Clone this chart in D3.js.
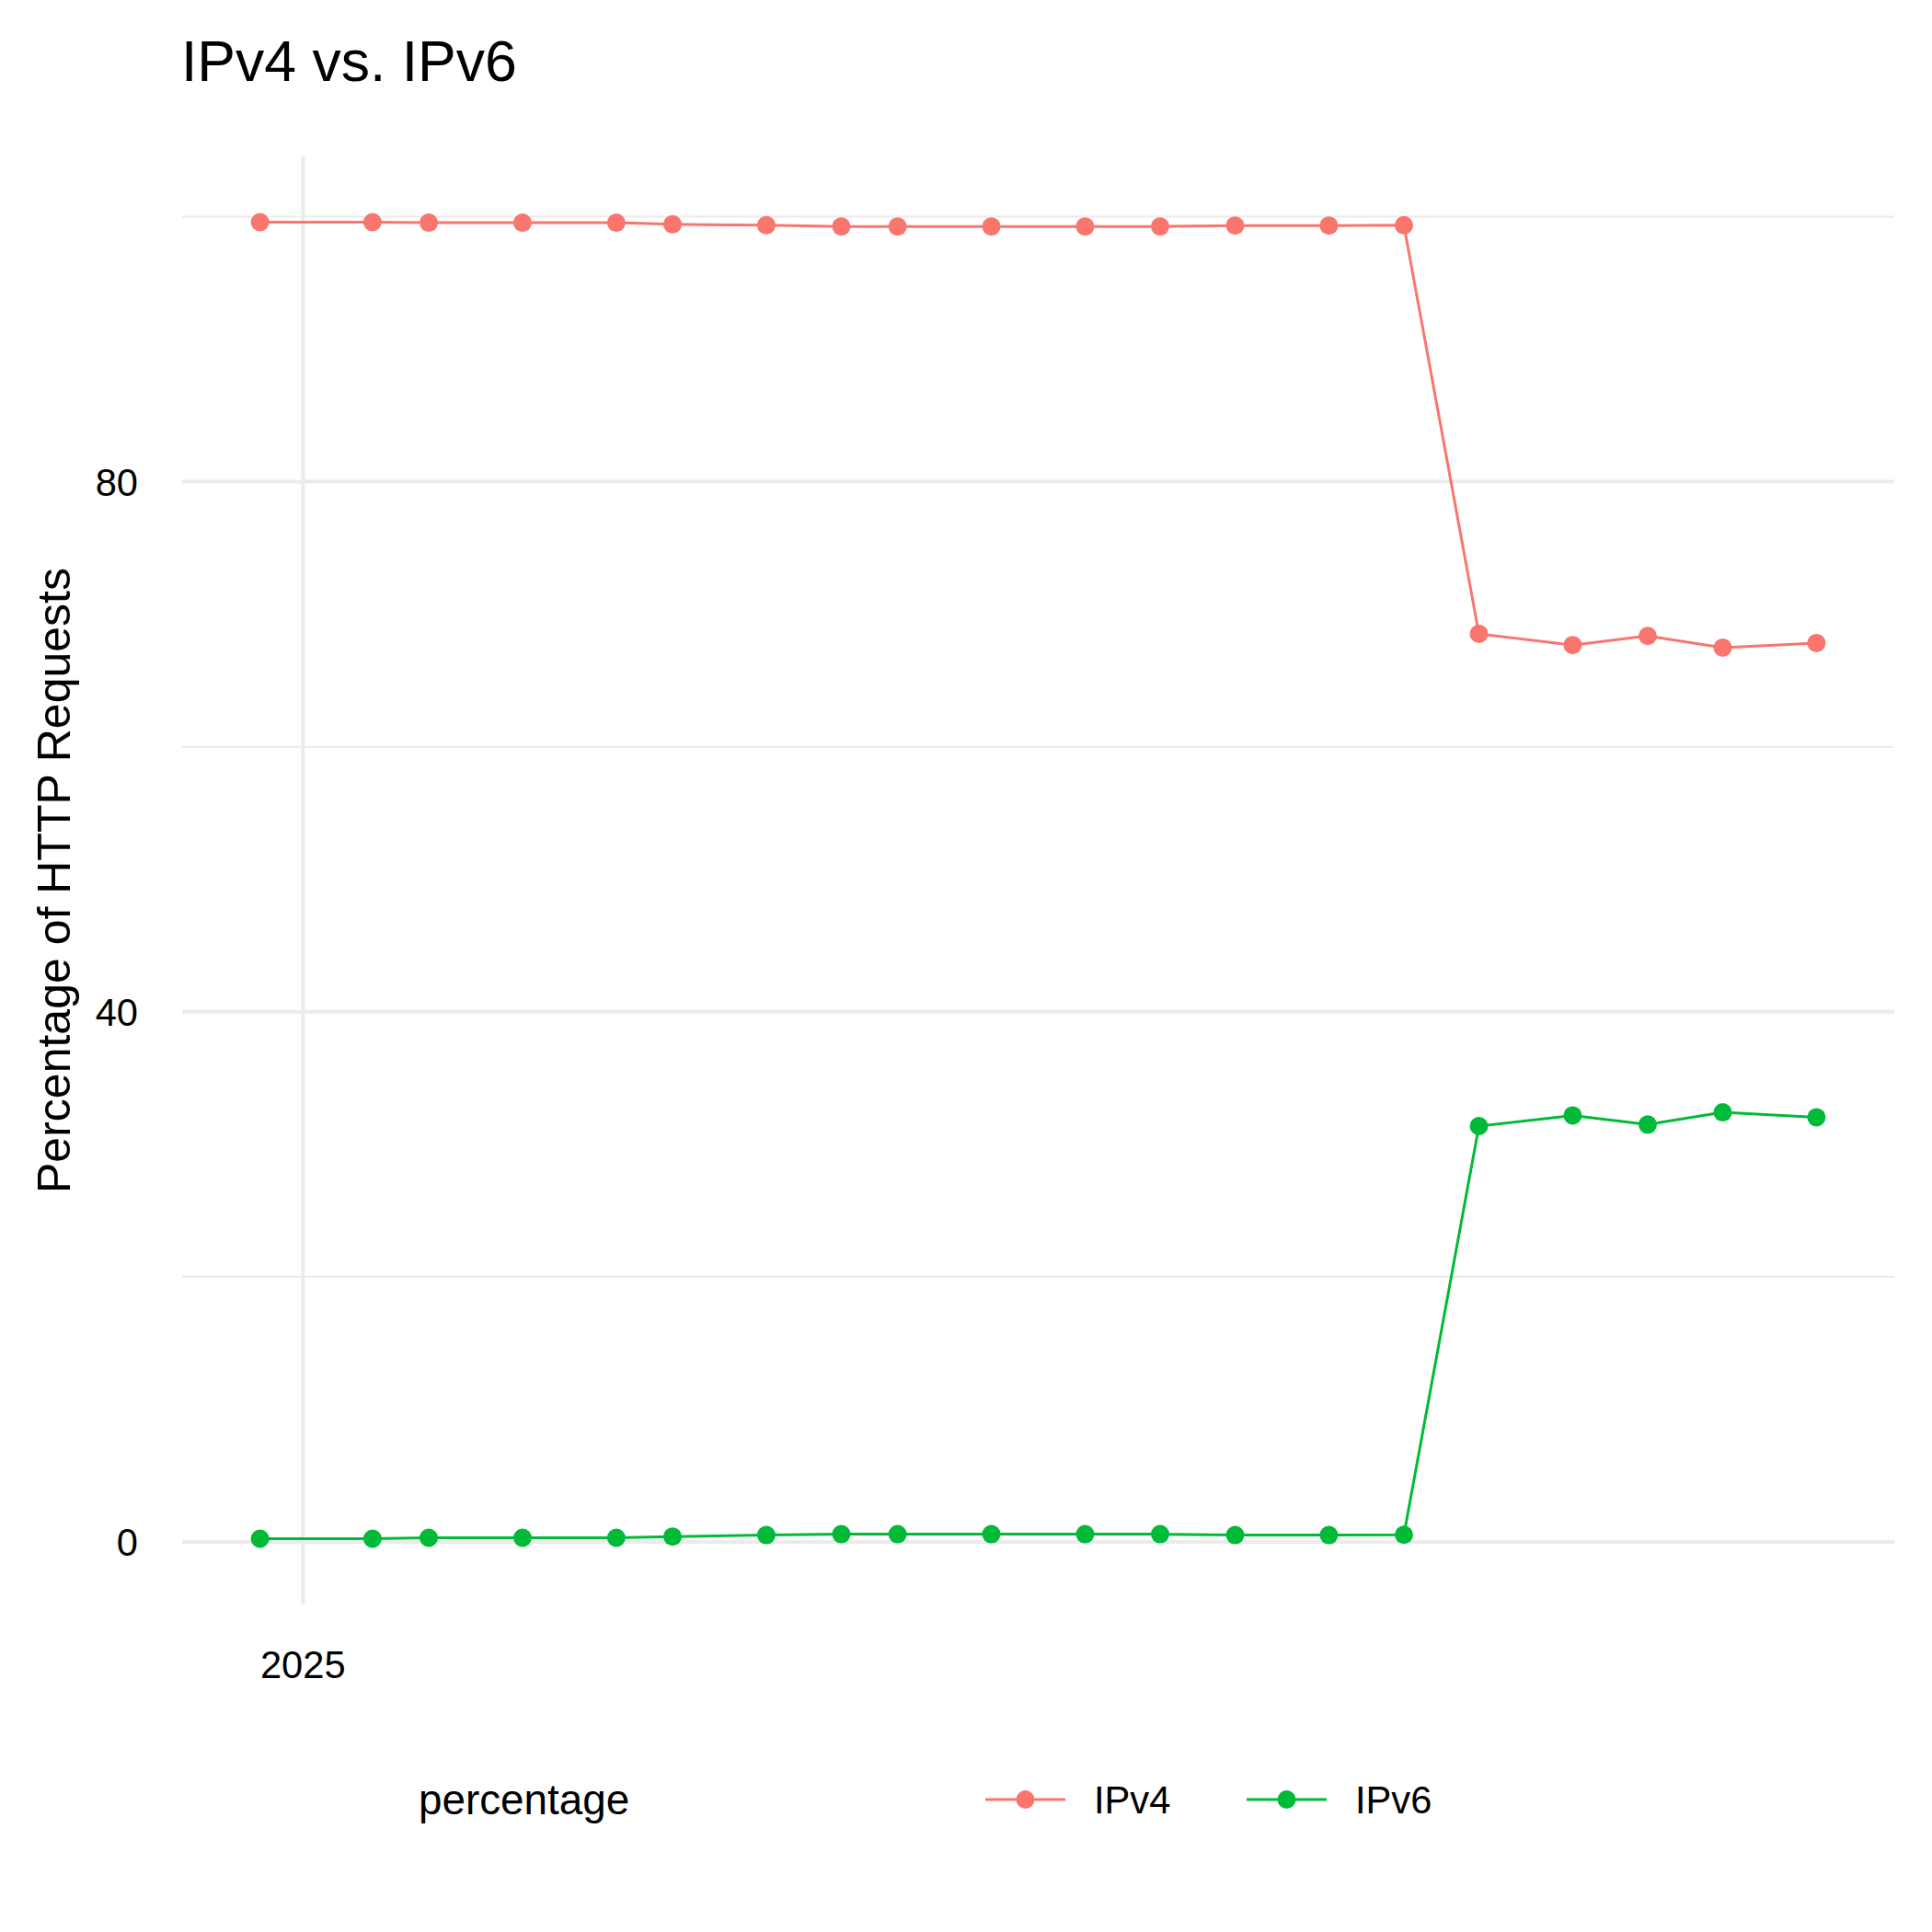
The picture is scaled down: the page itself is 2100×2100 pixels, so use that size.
<!DOCTYPE html>
<html>
<head>
<meta charset="utf-8">
<script src="https://cdn.jsdelivr.net/npm/d3@7"></script>
<style>
  html, body { margin: 0; padding: 0; background: #fff; }
  svg { display: block; font-family: "Liberation Sans", Arial, sans-serif; }
</style>
</head>
<body>
<svg id="chart"></svg>
<script>
// observation times (UTC)
const dates = [
  "2024-12-29T17:00Z", "2025-01-04T17:00Z", "2025-01-07T17:00Z", "2025-01-12T17:00Z",
  "2025-01-17T17:00Z", "2025-01-20T17:00Z", "2025-01-25T17:00Z", "2025-01-29T17:00Z",
  "2025-02-01T17:00Z", "2025-02-06T17:00Z", "2025-02-11T17:00Z", "2025-02-15T17:00Z",
  "2025-02-19T17:00Z", "2025-02-24T17:00Z", "2025-02-28T17:00Z", "2025-03-04T17:00Z",
  "2025-03-09T17:00Z", "2025-03-13T17:00Z", "2025-03-17T17:00Z", "2025-03-22T17:00Z"
];
const ipv4 = [99.58, 99.58, 99.54, 99.54, 99.54, 99.42, 99.35, 99.26, 99.26, 99.26,
              99.26, 99.26, 99.33, 99.33, 99.35, 68.52, 67.67, 68.36, 67.48, 67.83];
const ipv6 = [0.24, 0.24, 0.31, 0.31, 0.31, 0.40, 0.51, 0.58, 0.58, 0.58,
              0.58, 0.58, 0.51, 0.51, 0.53, 31.37, 32.18, 31.49, 32.41, 32.04];
const seriesNames = ["IPv4", "IPv6"];
const seriesColors = ["#F8766D", "#00BA38"];
const yMajor = [0, 40, 80];
const yMinor = [20, 60, 100];
const xBreaks = ["2025-01-01T00:00Z"];
const xLabels = ["2025"];

const W = 2100, H = 2100;
const P = { left: 198, right: 2059, top: 170, bottom: 1744 };
const GRID = "#EBEBEB";

const svg = d3.select("#chart").attr("width", W).attr("height", H).attr("viewBox", `0 0 ${W} ${H}`);

const parsed = dates.map(d => new Date(d));
const series = seriesNames.map((name, i) => ({
  name, color: seriesColors[i],
  values: parsed.map((t, j) => ({ t, v: [ipv4, ipv6][i][j] }))
}));

// ggplot-style 5% expansion
function expand([a, b], f = 0.05) { const r = b - a; return [a - r * f, b + r * f]; }
const xExt = d3.extent(parsed, d => +d);
const yExt = d3.extent(ipv4.concat(ipv6));
const x = d3.scaleUtc().domain(expand(xExt).map(v => new Date(v))).range([P.left, P.right]);
const y = d3.scaleLinear().domain(expand(yExt)).range([P.bottom, P.top]);

// Grid
const g = svg.append("g");
g.selectAll(".ymin").data(yMinor).join("line")
  .attr("x1", P.left).attr("x2", P.right)
  .attr("y1", d => y(d)).attr("y2", d => y(d))
  .attr("stroke", GRID).attr("stroke-width", 2);
g.selectAll(".ymaj").data(yMajor).join("line")
  .attr("x1", P.left).attr("x2", P.right)
  .attr("y1", d => y(d)).attr("y2", d => y(d))
  .attr("stroke", GRID).attr("stroke-width", 4);
g.selectAll(".xmaj").data(xBreaks).join("line")
  .attr("x1", d => x(new Date(d))).attr("x2", d => x(new Date(d)))
  .attr("y1", P.top).attr("y2", P.bottom)
  .attr("stroke", GRID).attr("stroke-width", 4);

// Tick labels
svg.append("g").selectAll("text").data(yMajor).join("text")
  .attr("x", 150).attr("y", d => y(d) + 15)
  .attr("text-anchor", "end").attr("font-size", 41.67).attr("fill", "#000")
  .text(d => d);
svg.append("g").selectAll("text").data(xBreaks).join("text")
  .attr("x", d => x(new Date(d))).attr("y", 1824)
  .attr("text-anchor", "middle").attr("font-size", 41.67).attr("fill", "#000")
  .text((d, i) => xLabels[i]);

// Lines and points
const line = d3.line().x(d => x(d.t)).y(d => y(d.v));
for (const s of series) {
  svg.append("path").datum(s.values)
    .attr("d", line).attr("fill", "none")
    .attr("stroke", s.color).attr("stroke-width", 3);
  svg.append("g").selectAll("circle").data(s.values).join("circle")
    .attr("cx", d => x(d.t)).attr("cy", d => y(d.v)).attr("r", 10)
    .attr("fill", s.color);
}

// Titles
svg.append("text").attr("x", 197).attr("y", 88)
  .attr("font-size", 62.5).attr("fill", "#000").text("IPv4 vs. IPv6");
svg.append("text")
  .attr("transform", `translate(76,${(P.top + P.bottom) / 2}) rotate(-90)`)
  .attr("text-anchor", "middle").attr("font-size", 50).attr("fill", "#000")
  .text("Percentage of HTTP Requests");

// Legend
const LY = 1956;
svg.append("text").attr("x", 455).attr("y", 1972)
  .attr("font-size", 45.8).attr("fill", "#000").text("percentage");
const keyX = [1071, 1355];
const leg = svg.append("g").selectAll("g").data(series).join("g")
  .attr("transform", (d, i) => `translate(${keyX[i]},${LY})`);
leg.append("line").attr("x1", 0).attr("x2", 87).attr("y1", 0).attr("y2", 0)
  .attr("stroke", d => d.color).attr("stroke-width", 3);
leg.append("circle").attr("cx", 43.5).attr("cy", 0).attr("r", 10).attr("fill", d => d.color);
leg.append("text").attr("x", 118).attr("y", 15)
  .attr("font-size", 41.67).attr("fill", "#000").text(d => d.name);
</script>
</body>
</html>
